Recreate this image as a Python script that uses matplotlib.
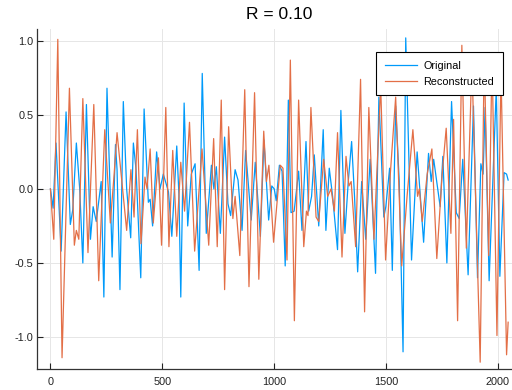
import matplotlib
matplotlib.use("Agg")
from matplotlib import pyplot as plt

plt.rcParams['font.family'] = ['Liberation Sans', 'DejaVu Sans']

title = "R = 0.10"
labels = ["Original", "Reconstructed"]
x_ticks = [0, 500, 1000, 1500, 2000]
y_ticks = [-1.0, -0.5, 0.0, 0.5, 1.0]

# turning points of the original signal (sample index, value)
orig_x = [0, 12, 25, 48, 70, 89, 100, 116, 131, 145,
          161, 179, 191, 205, 227, 239, 253, 276, 291, 298,
          311, 326, 341, 359, 371, 383, 404, 419, 438, 446,
          457, 475, 490, 505, 528, 543, 565, 575, 583, 598,
          614, 630, 647, 665, 679, 697, 720, 731, 742, 760,
          779, 794, 806, 826, 839, 857, 873, 898, 916, 939,
          955, 976, 990, 1001, 1010, 1024, 1036, 1050, 1064, 1076,
          1090, 1110, 1125, 1143, 1155, 1168, 1180, 1200, 1220, 1232,
          1247, 1262, 1284, 1299, 1317, 1332, 1347, 1360, 1374, 1392,
          1410, 1430, 1454, 1469, 1491, 1500, 1517, 1529, 1544, 1560,
          1577, 1589, 1615, 1640, 1669, 1691, 1703, 1714, 1743, 1755,
          1773, 1794, 1815, 1828, 1844, 1868, 1892, 1910, 1925, 1935,
          1944, 1962, 1994, 2010, 2029, 2040, 2047]
orig_y = [0.0, -0.13, 0.31, -0.42, 0.52, -0.24, -0.14, 0.31, 0.0, -0.50,
          0.57, -0.34, -0.12, -0.22, 0.05, -0.73, 0.68, -0.46, 0.30, 0.13,
          -0.68, 0.59, 0.0, -0.33, 0.31, 0.13, -0.60, 0.54, -0.09, -0.07,
          -0.25, 0.25, 0.00, 0.10, -0.02, -0.32, 0.29, -0.05, -0.73, 0.58,
          -0.25, 0.10, 0.17, -0.55, 0.78, -0.30, 0.16, 0.0, 0.15, -0.30,
          0.35, -0.10, -0.18, 0.13, 0.06, -0.28, 0.26, -0.21, 0.18, -0.32,
          0.33, -0.21, 0.02, 0.0, -0.08, 0.16, 0.12, -0.52, 0.60, -0.16,
          -0.15, 0.12, -0.28, 0.32, -0.15, -0.05, 0.23, -0.25, 0.40, -0.28,
          0.14, -0.05, -0.41, 0.53, -0.30, 0.05, 0.32, -0.05, -0.56, 0.05,
          -0.34, 0.20, -0.57, 0.62, -0.19, -0.12, 0.14, -0.55, 0.56, 0.05,
          -1.10, 1.02, -0.48, 0.25, -0.36, 0.24, 0.05, 0.20, -0.12, 0.22,
          -0.50, 0.59, -0.16, -0.20, 0.20, -0.58, 0.56, -0.60, 0.17, 0.10,
          0.55, -0.62, 0.68, -0.59, 0.11, 0.10, 0.06]

# turning points of the reconstruction
recon_x = [0, 15, 33, 52, 85, 107, 116, 127, 145, 168,
           194, 216, 243, 268, 285, 298, 341, 360, 374, 389,
           405, 423, 432, 446, 460, 483, 497, 516, 530, 547,
           565, 583, 600, 622, 645, 678, 708, 730, 746, 764,
           779, 797, 816, 826, 847, 869, 888, 913, 932, 954,
           966, 977, 998, 1028, 1040, 1058, 1073, 1091, 1110, 1133,
           1145, 1152, 1165, 1188, 1200, 1222, 1240, 1255, 1270, 1284,
           1304, 1322, 1335, 1345, 1365, 1387, 1405, 1424, 1447, 1477,
           1499, 1520, 1544, 1571, 1595, 1621, 1642, 1650, 1663, 1685,
           1706, 1728, 1752, 1770, 1791, 1803, 1821, 1840, 1860, 1885,
           1922, 1940, 1960, 1975, 1997, 2015, 2040, 2047]
recon_y = [0.0, -0.34, 1.01, -1.14, 0.68, -0.38, -0.28, -0.34, 0.61, -0.43,
           0.57, -0.62, 0.40, -0.23, 0.10, 0.38, -0.28, 0.13, -0.19, 0.40,
           -0.37, 0.08, 0.00, 0.27, -0.23, 0.21, -0.38, 0.55, -0.39, 0.26,
           -0.32, 0.18, -0.15, 0.45, -0.42, 0.27, -0.38, 0.34, -0.39, 0.60,
           -0.68, 0.42, -0.20, -0.05, -0.45, 0.67, -0.66, 0.65, -0.61, 0.39,
           0.05, 0.16, -0.36, 0.16, 0.14, -0.48, 0.87, -0.89, 0.60, -0.39,
           -0.15, -0.18, 0.55, -0.19, -0.22, 0.20, -0.05, 0.00, -0.15, 0.38,
           -0.46, 0.22, 0.02, 0.05, -0.39, 0.74, -0.83, 0.55, -0.34, 0.70,
           -0.48, 0.10, 0.62, -0.52, -0.05, 0.40, -0.05, 0.00, -0.22, 0.10,
           0.27, -0.47, 0.10, 0.41, -0.30, 0.47, -0.89, 0.97, -0.40, 0.85,
           -1.17, 0.90, -0.45, 0.90, -0.99, 0.80, -1.12, -0.90]

fig = plt.figure(figsize=(5.12, 3.9), dpi=100)
# plot area runs a little past the right edge of the picture, like the original
ax = fig.add_axes([37 / 512, 21 / 390, 485 / 512, 340 / 390])

ax.plot(orig_x, orig_y, color='#009AFA', lw=0.9, label=labels[0], solid_joinstyle='round')
ax.plot(recon_x, recon_y, color='#E36F47', lw=0.9, label=labels[1], solid_joinstyle='round')

ax.set_xlim(-60, 2109)
ax.set_ylim(-1.216, 1.08)
ax.set_xticks(x_ticks)
ax.set_yticks(y_ticks)
ax.set_yticklabels([f"{v:.1f}" for v in y_ticks])
ax.tick_params(direction='in', length=4, width=0.8, labelsize=7.8, colors='#222222')
ax.tick_params(axis='x', pad=6)
ax.tick_params(axis='y', pad=2.5)
ax.grid(True, color='#e6e6e6', lw=0.7)
ax.set_axisbelow(True)
for side in ['top', 'right']:
    ax.spines[side].set_visible(False)
for side in ['left', 'bottom']:
    ax.spines[side].set_color('#333333')
    ax.spines[side].set_linewidth(0.9)

ax.set_title(title, fontsize=12.5, pad=7.5)

leg = ax.legend(loc='upper right', bbox_to_anchor=(503 / 512, 1 - 52 / 390),
                bbox_transform=fig.transFigure, borderaxespad=0, fontsize=7.8,
                handlelength=3.0, handletextpad=0.6, labelspacing=0.55,
                borderpad=0.8, fancybox=False, framealpha=1)
leg.get_frame().set_edgecolor('black')
leg.get_frame().set_linewidth(0.8)

fig.savefig("out.png", dpi=100)
